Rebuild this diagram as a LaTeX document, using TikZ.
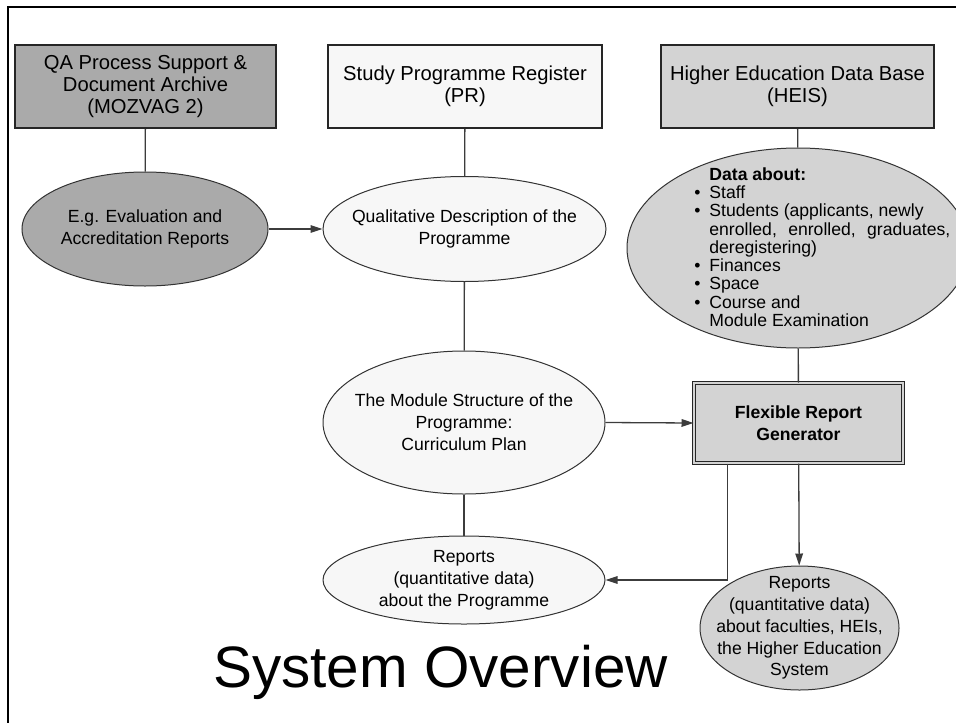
\documentclass[tikz,border=0pt]{standalone}
\usepackage{fontspec}
\setmainfont{Liberation Sans}
\usetikzlibrary{arrows.meta, shapes.geometric}

\definecolor{darkfill}{RGB}{170,170,170}
\definecolor{midfill}{RGB}{211,211,211}
\definecolor{palefill}{RGB}{247,247,247}
\definecolor{linegray}{RGB}{60,60,60}

\newcommand{\dbul}{\makebox[7.5pt][l]{\textbullet}}
\newcommand{\dind}{\hspace*{7.5pt}}

\begin{document}
\begin{tikzpicture}
    [x=0.5pt, y=-0.5pt,
    boxnode/.style={rectangle, draw=black!85, line width=1pt, align=center, inner sep=0pt,
        font=\fontsize{10.1}{10.8}\selectfont},
    ellnode/.style={ellipse, draw=black!80, line width=0.5pt, inner sep=0pt},
    elltext/.style={align=center, inner sep=0pt, font=\fontsize{8.8}{10.9}\selectfont},
    link/.style={draw=linegray, line width=0.65pt},
    arrow/.style={link, -{Triangle[length=6pt, width=3.8pt]}},]

    \useasboundingbox (0,0) rectangle (956,722);
    \clip (0,0) rectangle (956,722);
    \draw[line width=1pt] (8,740) -- (8,7) -- (980,7);

    %Nodes
    \node[boxnode, fill=darkfill, minimum width=130.5pt, minimum height=41.5pt](qa) at (145.5,86.5)
        {QA Process Support \&\\Document Archive\\(MOZVAG 2)};
    \node[boxnode, fill=palefill, minimum width=137pt, minimum height=41.5pt](spr) at (465,86.5)
        {Study Programme Register\\(PR)};
    \node[boxnode, fill=midfill, minimum width=136.5pt, minimum height=41.5pt](heis) at (797.5,86.5)
        {Higher Education Data Base\\(HEIS)};

    \node[ellnode, fill=darkfill, minimum width=123pt, minimum height=57pt](eg) at (145,229){};
    \node[elltext](eg-text) at (eg){E.g. Evaluation and\\Accreditation Reports};

    \node[ellnode, fill=palefill, minimum width=141.5pt, minimum height=52.5pt](qual) at (464.5,229){};
    \node[elltext](qual-text) at (qual){Qualitative Description of the\\Programme};

    \node[ellnode, fill=midfill, minimum width=171pt, minimum height=100pt](data) at (798,248){};
    \node[align=left, inner sep=0pt, anchor=north west, font=\fontsize{8.8}{9.15}\selectfont](data-text) at (694,167)
        {\dind\textbf{Data about:}\\
         \dbul Staff\\
         \dbul Students (applicants, newly\\
         \dind\makebox[120.5pt][s]{enrolled,\hfill enrolled,\hfill graduates,}\\
         \dind deregistering)\\
         \dbul Finances\\
         \dbul Space\\
         \dbul Course and\\
         \dind Module Examination};

    \node[ellnode, fill=palefill, minimum width=141pt, minimum height=71.5pt](module) at (464,422.5){};
    \node[elltext](module-text) at (module){The Module Structure of the\\Programme:\\Curriculum Plan};

    \node[boxnode, fill=midfill, line width=0.5pt, double=midfill, double distance=1pt,
        minimum width=104.5pt, minimum height=40pt,
        font=\fontsize{8.8}{10.9}\selectfont\bfseries](frg) at (798.5,423){Flexible Report\\Generator};

    \node[ellnode, fill=palefill, minimum width=141pt, minimum height=44pt](repprog) at (464,580){};
    \node[elltext](repprog-text) at (repprog){Reports\\(quantitative data)\\about the Programme};

    \node[ellnode, fill=midfill, minimum width=99.5pt, minimum height=62pt](rephe) at (799.5,628){};
    \node[elltext](rephe-text) at (rephe){Reports\\(quantitative data)\\about faculties, HEIs,\\the Higher Education\\System};

    \node[anchor=base west, inner sep=0pt, font=\fontsize{29.2}{31}\selectfont](title) at (213,687){System Overview};

    \coordinate (frg-out) at ([xshift=17pt]frg.south west);

    %Lines
    \draw[link](qa)--(eg);
    \draw[link](spr)--(qual);
    \draw[link](heis)--(data);
    \draw[arrow](eg.east)--(qual.west);
    \draw[link](qual)--(module);
    \draw[link](data)--(frg);
    \draw[arrow](module.east)--(frg.west);
    \draw[link](module)--(repprog);
    \draw[arrow](frg)--(rephe);
    \draw[arrow](frg-out)|-(repprog.east);
\end{tikzpicture}
\end{document}
